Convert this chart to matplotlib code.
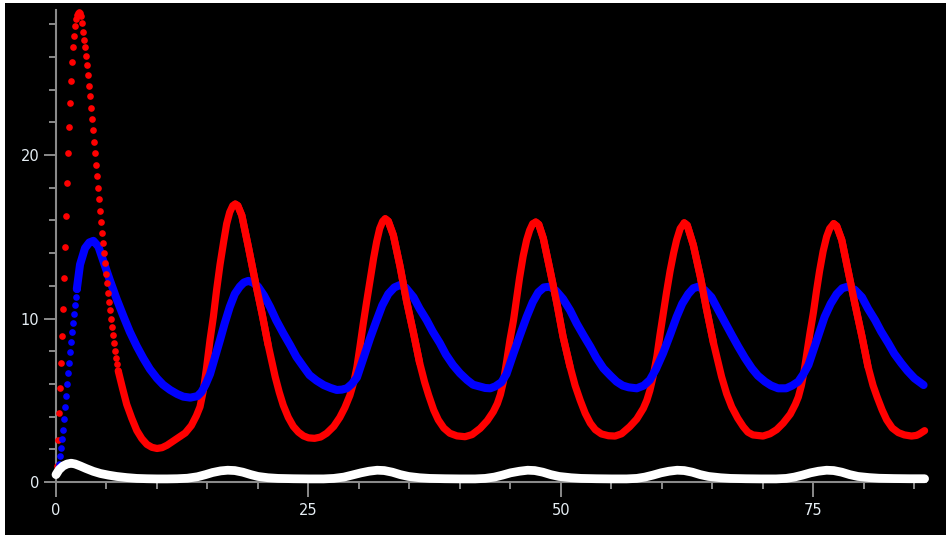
import matplotlib
matplotlib.use("Agg")
import numpy as np
import matplotlib.pyplot as plt
from matplotlib.ticker import MultipleLocator, FixedLocator
from matplotlib.patches import Rectangle

# ---------------- data ----------------
x_ticks = [0, 25, 50, 75]
y_ticks = [0, 10, 20]

# red series: individually visible dots of the first spike
red_spike_t = [0.06, 0.16, 0.26, 0.36, 0.46, 0.56, 0.66, 0.76, 0.86, 0.96, 1.06, 1.16,
               1.26, 1.36, 1.46, 1.56, 1.66, 1.76, 1.86, 1.96, 2.06, 2.16, 2.26, 2.36,
               2.46, 2.56, 2.66, 2.76, 2.86, 2.96, 3.06, 3.16, 3.26, 3.36, 3.46, 3.56,
               3.66, 3.76, 3.86, 3.96, 4.06, 4.16, 4.26, 4.36, 4.46, 4.56, 4.66, 4.76,
               4.86, 4.96, 5.06, 5.16, 5.26, 5.36, 5.46, 5.56, 5.66, 5.76, 5.86, 5.96,
               6.06, 6.16]
red_spike_v = [1.0, 2.57, 4.2, 5.73, 7.26, 8.9, 10.6, 12.5, 14.4, 16.3, 18.3, 20.1,
               21.7, 23.2, 24.5, 25.7, 26.6, 27.3, 27.9, 28.3, 28.55, 28.7, 28.75, 28.7,
               28.5, 28.1, 27.5, 27.05, 26.6, 26.05, 25.5, 24.9, 24.2, 23.6, 22.9, 22.2,
               21.5, 20.8, 20.1, 19.4, 18.7, 18.0, 17.3, 16.6, 15.9, 15.25, 14.6, 14.0,
               13.4, 12.75, 12.15, 11.55, 11.0, 10.5, 10.0, 9.5, 9.0, 8.5, 8.0, 7.6,
               7.2, 6.8]

# red series: continuous part
red_t = [6.16, 6.6, 7.0, 7.5, 8.0, 8.5, 9.0, 9.5, 10.0, 10.5, 11.0, 11.6, 12.2, 12.8,
         13.4, 13.9, 14.26, 14.59, 14.92, 15.25, 15.58, 15.9, 16.24, 16.6, 16.9, 17.2,
         17.5, 17.75, 18.0, 18.4, 19.04, 19.7, 20.4, 21.0, 21.7, 22.1, 22.5, 23.0, 23.5,
         24.0, 24.5, 25.0, 25.6, 26.2, 26.8, 27.5, 28.1, 28.6, 29.1, 29.5, 29.8, 30.1,
         30.4, 30.75, 31.1, 31.45, 31.75, 32.05, 32.35, 32.6, 32.9, 33.4, 34.06, 34.7,
         35.4, 36.0, 36.5, 36.9, 37.4, 37.85, 38.4, 39.0, 39.7, 40.5, 41.2, 42.0, 42.7,
         43.3, 43.7, 44.0, 44.3, 44.6, 44.95, 45.3, 45.6, 45.9, 46.25, 46.6, 46.9, 47.2,
         47.5, 47.8, 48.25, 48.9, 49.6, 50.2, 50.9, 51.4, 51.9, 52.4, 52.9, 53.4, 54.0,
         54.7, 55.35, 56.0, 56.8, 57.5, 58.15, 58.5, 58.8, 59.1, 59.5, 59.8, 60.1, 60.45,
         60.8, 61.15, 61.45, 61.8, 62.2, 62.5, 63.1, 63.8, 64.4, 65.1, 65.9, 66.4, 66.9,
         67.5, 68.05, 68.5, 69.0, 70.0, 70.7, 71.35, 72.0, 72.7, 73.2, 73.5, 73.8, 74.05,
         74.3, 74.65, 75.0, 75.3, 75.6, 75.95, 76.3, 76.6, 77.0, 77.3, 77.8, 78.4, 79.1,
         79.8, 80.4, 80.9, 81.3, 81.8, 82.25, 82.8, 83.4, 84.0, 84.7, 85.2, 85.5, 86.0]
red_v = [6.8, 5.7, 4.75, 3.9, 3.15, 2.65, 2.3, 2.12, 2.05, 2.1, 2.25, 2.5, 2.75, 3.0,
         3.45, 4.05, 4.6, 5.6, 7.05, 8.69, 10.1, 11.74, 13.3, 14.7, 15.8, 16.5,
         16.9, 17.0, 16.9, 16.3, 14.4, 12.35, 10.3, 8.4, 6.44, 5.5, 4.7, 3.95, 3.4,
         3.05, 2.82, 2.7, 2.67, 2.75, 2.98, 3.4, 3.95, 4.55, 5.3, 6.15, 7.05, 8.3,
         9.6, 11.0, 12.35, 13.7, 14.7, 15.5, 15.95, 16.1, 15.95, 15.1, 13.2, 11.1,
         9.1, 7.3, 6.1, 5.3, 4.4, 3.8, 3.3, 2.98, 2.82, 2.77, 2.9, 3.28, 3.75,
         4.3, 4.8, 5.35, 6.15, 7.3, 8.7, 9.9, 11.2, 12.5, 13.8, 14.8, 15.4, 15.8,
         15.9, 15.75, 14.9, 13.0, 10.9, 8.9, 7.05, 5.9, 5.0, 4.2, 3.6, 3.2, 2.94,
         2.83, 2.81, 2.95, 3.38, 3.85, 4.5, 5.0, 5.6, 6.4, 7.7, 9.0, 10.2, 11.6,
         12.9, 14.0, 14.8, 15.5, 15.85, 15.7, 14.5, 12.55, 10.6, 8.5, 6.44, 5.4, 4.6,
         3.9, 3.38, 3.05, 2.88, 2.81, 2.95, 3.2, 3.6, 4.15, 4.75, 5.2, 5.9, 6.7,
         7.7, 9.1, 10.4, 11.7, 12.9, 14.1, 15.0, 15.5, 15.8, 15.65, 14.8, 13.0, 10.9,
         8.9, 7.05, 5.9, 5.2, 4.4, 3.8, 3.3, 3.02, 2.88, 2.81, 2.85, 2.94, 3.14]

# blue series: individually visible dots at the start
blue_spike_t = [0.06, 0.16, 0.26, 0.36, 0.46, 0.56, 0.66, 0.76, 0.86, 0.96, 1.06,
                1.16, 1.26, 1.36, 1.46, 1.56, 1.66, 1.76, 1.86, 1.96, 2.06]
blue_spike_v = [0.6, 0.85, 1.1, 1.59, 2.06, 2.61, 3.18, 3.83, 4.57, 5.26, 6.0,
                6.65, 7.3, 7.95, 8.55, 9.15, 9.7, 10.25, 10.8, 11.3, 11.8]

# blue series: continuous part
blue_t = [2.06, 2.38, 2.87, 3.3, 3.7, 4.2, 4.7, 5.3, 6.0, 6.7, 7.3, 8.0, 8.65, 9.3,
          10.0, 10.6, 11.3, 12.0, 12.6, 13.3, 14.0, 14.4, 14.8, 15.25, 15.7, 16.24, 16.7,
          17.2, 17.7, 18.2, 18.6, 19.04, 19.5, 20.0, 20.6, 21.2, 21.8, 22.5, 23.2,
          23.8, 24.5, 25.1, 25.8, 26.5, 27.2, 27.8, 28.3, 28.8, 29.3, 29.8, 30.4,
          31.1, 31.75, 32.3, 32.9, 33.5, 34.06, 34.6, 35.4, 36.0, 36.7, 37.3, 38.0,
          38.6, 39.3, 40.0, 40.7, 41.3, 42.0, 42.5, 43.0, 43.5, 44.1, 44.6, 45.3,
          45.95, 46.6, 47.2, 47.75, 48.3, 48.9, 49.5, 50.2, 50.9, 51.55, 52.2, 52.9,
          53.5, 54.2, 54.9, 55.5, 56.1, 56.7, 57.5, 58.2, 58.8, 59.4, 60.1, 60.8,
          61.45, 62.0, 62.6, 63.1, 63.6, 64.2, 64.9, 65.5, 66.2, 66.9, 67.55, 68.2,
          68.9, 69.5, 70.2, 70.8, 71.5, 72.3, 72.9, 73.5, 74.0, 74.5, 75.0, 75.5,
          76.1, 76.7, 77.3, 77.85, 78.4, 79.1, 79.8, 80.4, 81.1, 81.7, 82.4, 83.0,
          83.7, 84.3, 85.0, 85.9]
blue_v = [11.8, 13.3, 14.3, 14.65, 14.75, 14.4, 13.5, 12.4, 11.2, 10.1, 9.2, 8.3, 7.56, 6.9,
          6.34, 5.95, 5.63, 5.38, 5.22, 5.16, 5.25, 5.5, 5.95, 6.6, 7.55, 8.69, 9.7,
          10.7, 11.5, 11.95, 12.2, 12.3, 12.2, 11.95, 11.4, 10.7, 9.9, 9.1, 8.35,
          7.66, 7.05, 6.54, 6.2, 5.93, 5.75, 5.63, 5.65, 5.73, 6.0, 6.4, 7.5,
          8.8, 9.9, 10.8, 11.5, 11.9, 12.05, 11.9, 11.3, 10.6, 9.9, 9.2, 8.5,
          7.8, 7.16, 6.65, 6.24, 5.95, 5.83, 5.75, 5.73, 5.85, 6.1, 6.6, 7.87,
          9.0, 10.1, 11.0, 11.6, 11.9, 11.95, 11.7, 11.2, 10.5, 9.7, 9.0, 8.28,
          7.6, 6.95, 6.5, 6.14, 5.9, 5.79, 5.73, 5.9, 6.24, 6.9, 7.87, 9.0,
          10.1, 10.9, 11.5, 11.85, 11.95, 11.75, 11.3, 10.6, 9.8, 9.0, 8.28, 7.6,
          6.95, 6.5, 6.14, 5.9, 5.73, 5.73, 5.9, 6.14, 6.6, 7.16, 8.07, 9.0,
          10.1, 10.9, 11.5, 11.85, 11.95, 11.75, 11.3, 10.6, 9.9, 9.2, 8.5, 7.85,
          7.26, 6.8, 6.34, 5.93]

# white series
white_t = [0.0, 0.3, 0.7, 1.1, 1.5, 1.9, 2.4, 3.0, 3.7, 4.4, 5.2, 6.0, 7.0, 8.0, 9.0,
           10.0, 11.0, 12.0, 13.0, 14.0, 14.8, 15.5, 16.3, 17.0, 17.7, 18.5, 19.3,
           20.0, 21.0, 22.0, 23.5, 25.0, 26.5, 27.5, 28.5, 29.3, 30.2, 31.0, 31.8,
           32.5, 33.3, 34.1, 34.9, 36.0, 37.0, 38.5, 40.0, 41.5, 42.5, 43.4, 44.2,
           45.0, 45.9, 46.7, 47.4, 48.2, 49.0, 49.8, 51.0, 52.0, 53.5, 55.0, 56.5,
           57.5, 58.3, 59.1, 59.9, 60.7, 61.5, 62.2, 63.0, 63.8, 64.6, 65.8, 66.8,
           68.3, 69.8, 71.3, 72.3, 73.1, 73.9, 74.7, 75.5, 76.3, 77.0, 77.8, 78.6,
           79.4, 80.5, 81.5, 83.0, 84.5, 86.0]
white_v = [0.45, 0.75, 0.98, 1.1, 1.15, 1.1, 0.98, 0.82, 0.65, 0.52, 0.42, 0.34, 0.27, 0.22, 0.2,
           0.19, 0.19, 0.2, 0.23, 0.32, 0.45, 0.58, 0.68, 0.72, 0.7, 0.6, 0.45,
           0.34, 0.26, 0.22, 0.2, 0.19, 0.19, 0.22, 0.3, 0.42, 0.56, 0.66, 0.72,
           0.7, 0.6, 0.45, 0.34, 0.26, 0.22, 0.2, 0.19, 0.19, 0.22, 0.3, 0.42,
           0.56, 0.66, 0.72, 0.7, 0.6, 0.45, 0.34, 0.26, 0.22, 0.2, 0.19, 0.19,
           0.22, 0.3, 0.42, 0.56, 0.66, 0.72, 0.7, 0.6, 0.45, 0.34, 0.26, 0.22,
           0.2, 0.19, 0.19, 0.22, 0.3, 0.42, 0.56, 0.66, 0.72, 0.7, 0.6, 0.45,
           0.34, 0.27, 0.23, 0.21, 0.2, 0.2]

# ---------------- figure ----------------
W, H = 946, 535
fig = plt.figure(figsize=(W / 100, H / 100), dpi=100)
fig.patch.set_facecolor('white')
fig.patches.append(Rectangle((5 / W, 0), 1, 1 - 3 / H, transform=fig.transFigure,
                             facecolor='black', edgecolor='none', zorder=-10))

x0, x1 = 56, 925.6
ybot, ytop = 482, 9.5
ax = fig.add_axes([x0 / W, (H - ybot) / H, (x1 - x0) / W, (ybot - ytop) / H])
ax.set_facecolor('none')
ax.set_xlim(0, 86.1)
ax.set_ylim(0, 28.9)

RED, BLUE, WHITE = '#ff0000', '#0000ff', '#ffffff'
line_kw = dict(solid_capstyle='round', solid_joinstyle='round', clip_on=False)

ax.plot(red_t, red_v, color=RED, lw=5.2, zorder=3, **line_kw)
ax.plot(blue_t, blue_v, color=BLUE, lw=5.8, zorder=4, **line_kw)
# falling red flanks are drawn later in time than the blue peaks they cross
rv = np.array(red_v)
falling = np.r_[np.diff(rv) < 0, False] | np.r_[False, np.diff(rv) < 0]
red_fall = np.where(falling & (rv > 7), rv, np.nan)
ax.plot(red_t, red_fall, color=RED, lw=5.2, zorder=4.5, **line_kw)
ax.plot(red_spike_t, red_spike_v, 'o', color=RED, ms=4.8, mew=0,
        clip_on=False, zorder=4.6)
ax.plot(blue_spike_t, blue_spike_v, 'o', color=BLUE, ms=4.8, mew=0,
        clip_on=False, zorder=4.7)
ax.plot(white_t, white_v, color=WHITE, lw=6.3, zorder=5, **line_kw)

for s in ['top', 'right']:
    ax.spines[s].set_visible(False)
for s in ['left', 'bottom']:
    ax.spines[s].set_color('#8a8a8a')
    ax.spines[s].set_linewidth(1.5)

ax.xaxis.set_major_locator(FixedLocator(x_ticks))
ax.yaxis.set_major_locator(FixedLocator(y_ticks))
ax.xaxis.set_minor_locator(MultipleLocator(5))
ax.yaxis.set_minor_locator(MultipleLocator(2))
ax.tick_params(axis='x', which='major', length=11, width=1.4, color='#8a8a8a',
               direction='out', pad=4, labelsize=10.5, labelcolor='#e6eef4')
ax.tick_params(axis='y', which='major', length=9, width=1.4, color='#8a8a8a',
               direction='out', pad=3, labelsize=10.5, labelcolor='#e6eef4')
ax.tick_params(which='minor', length=5, width=1.4, color='#8a8a8a', direction='out')

fig.savefig('out.png', dpi=100, facecolor=fig.get_facecolor())
